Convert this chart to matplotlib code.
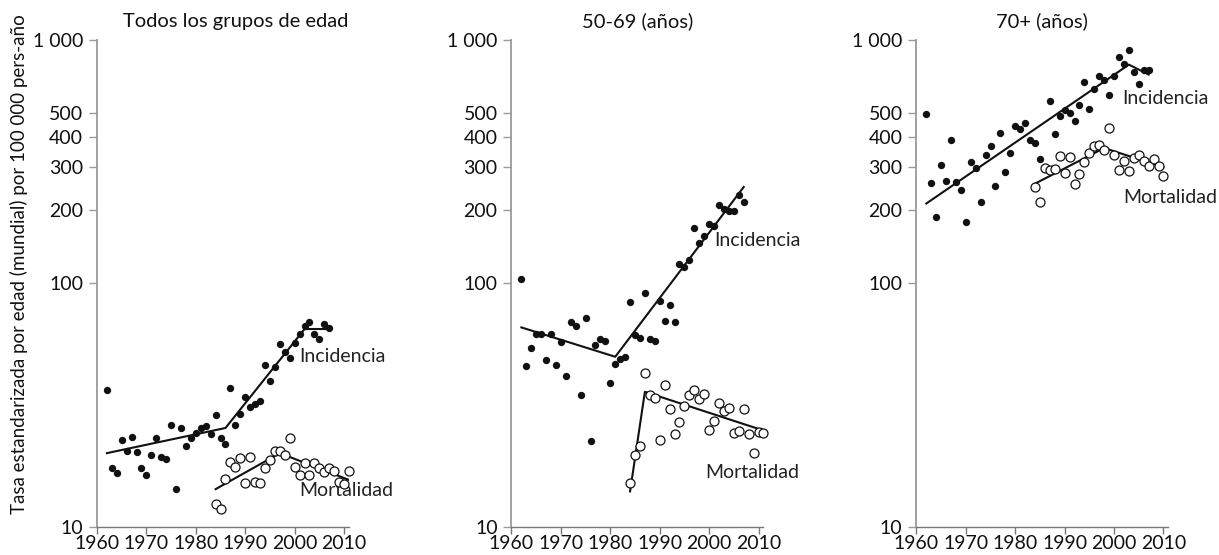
import numpy as np
import matplotlib
matplotlib.use("Agg")
import matplotlib.pyplot as plt
from matplotlib.ticker import FixedLocator, NullLocator

plt.rcParams['font.family'] = ['Lato', 'DejaVu Sans']

# --- datos: Todos los grupos de edad
inc_all_years = list(range(1962, 2008))
inc_all = [36.5, 17.5, 16.7, 22.7, 20.5, 23.4, 20.3, 17.4, 16.4, 19.7,
           23.2, 19.4, 19.0, 26.3, 14.3, 25.5, 21.5, 23.1, 24.3, 25.5,
           26.0, 24.0, 28.9, 23.2, 22.0, 37.3, 26.3, 29.0, 34.1, 31.2,
           31.9, 33.0, 46.1, 39.8, 45.4, 56.5, 52.4, 49.5, 56.8, 62.2,
           66.6, 69.4, 62.2, 59.3, 68.3, 65.6]
mor_all_years = list(range(1984, 2012))
mor_all = [12.4, 11.8, 15.7, 18.5, 17.7, 19.2, 15.1, 19.4, 15.3, 15.1,
           17.4, 18.8, 20.6, 20.6, 19.7, 23.1, 17.7, 16.3, 18.3, 16.4,
           18.3, 17.4, 16.8, 17.4, 17.0, 15.3, 15.0, 17.0]
inc_all_fit_x = [1962, 1986, 2002, 2007]
inc_all_fit_y = [20.1, 25.5, 65.0, 65.0]
mor_all_fit_x = [1984, 1997, 2011]
mor_all_fit_y = [14.3, 20.1, 15.6]

# --- datos: 50-69 años
inc_5069_years = list(range(1962, 2008))
inc_5069 = [104, 45.8, 54.4, 62.2, 61.8, 48.6, 61.8, 46.4, 57.3, 41.8,
            69.2, 66.6, 34.9, 72.3, 22.5, 56.1, 59.3, 58.1, 38.9, 46.5,
            48.9, 49.8, 84.2, 61.4, 59.7, 91.4, 59.2, 58.1, 85.0, 70.0,
            81.4, 69.2, 120, 117, 125, 169, 146, 156, 175, 173,
            211, 203, 199, 199, 230, 216]
mor_5069_years = list(range(1984, 2012))
mor_5069 = [15.2, 19.8, 21.6, 42.7, 34.9, 33.8, 22.7, 38.4, 30.4, 24.1,
            27.0, 31.5, 34.7, 36.4, 33.4, 35.3, 25.0, 27.3, 32.2, 29.8,
            30.7, 24.3, 24.7, 30.5, 24.0, 20.2, 24.5, 24.3]
inc_5069_fit_x = [1962, 1981, 2007]
inc_5069_fit_y = [66.0, 50.0, 249.0]
mor_5069_fit_x = [1984, 1987, 2011]
mor_5069_fit_y = [14.0, 35.9, 24.9]

# --- datos: 70+ años
inc_70_years = list(range(1962, 2008))
inc_70 = [495, 258, 188, 306, 263, 387, 260, 241, 179, 314,
          298, 217, 337, 367, 252, 415, 288, 342, 444, 432,
          458, 388, 376, 323, 295, 561, 411, 489, 518, 500,
          466, 539, 669, 523, 628, 712, 686, 596, 712, 853,
          799, 908, 741, 660, 753, 753]
mor_70_years = list(range(1984, 2011))
mor_70 = [249, 216, 298, 292, 295, 335, 284, 330, 256, 281,
          316, 342, 367, 370, 352, 436, 338, 293, 317, 291,
          327, 338, 317, 303, 325, 305, 276]
inc_70_fit_x = [1962, 2003, 2007]
inc_70_fit_y = [213, 792, 721]
mor_70_fit_x = [1984, 1998, 2010]
mor_70_fit_y = [257, 360, 300]

titles = ["Todos los grupos de edad", "50-69 (años)", "70+ (años)"]
label_pos = [((2001, 50), (2001, 14.1)),
             ((2001, 150), (1999.3, 16.7)),
             ((2001.7, 577), (2001.9, 225))]

panels = [
    (inc_all_years, inc_all, mor_all_years, mor_all,
     inc_all_fit_x, inc_all_fit_y, mor_all_fit_x, mor_all_fit_y),
    (inc_5069_years, inc_5069, mor_5069_years, mor_5069,
     inc_5069_fit_x, inc_5069_fit_y, mor_5069_fit_x, mor_5069_fit_y),
    (inc_70_years, inc_70, mor_70_years, mor_70,
     inc_70_fit_x, inc_70_fit_y, mor_70_fit_x, mor_70_fit_y),
]

yticks = [10, 100, 200, 300, 400, 500, 1000]
ylabels = ["10", "100", "200", "300", "400", "500", "1 000"]
xticks = [1960, 1970, 1980, 1990, 2000, 2010]

fig = plt.figure(figsize=(12.19, 5.55), dpi=100)
lefts = [0.0796, 0.4196, 0.7518]
fs = 14

for i, (iy, iv, my, mv, ifx, ify, mfx, mfy) in enumerate(panels):
    ax = fig.add_axes([lefts[i], 0.0505, 0.2067, 0.8775])
    ax.set_yscale('log')
    ax.set_ylim(10, 1000)
    ax.set_xlim(1960, 2011)

    ax.plot(ifx, ify, color='#111111', lw=1.5, zorder=2)
    ax.plot(mfx, mfy, color='#111111', lw=1.5, zorder=2)
    ax.scatter(iy, iv, s=28, color='#111111', zorder=3, clip_on=False,
               linewidths=0)
    ax.scatter(my, mv, s=42, facecolors='white', edgecolors='#111111',
               linewidths=0.9, zorder=4, clip_on=False)

    (ix, iyy), (mx, myy) = label_pos[i]
    ax.text(ix, iyy, "Incidencia", fontsize=fs, va='center', ha='left',
            color='#222222')
    ax.text(mx, myy, "Mortalidad", fontsize=fs, va='center', ha='left',
            color='#222222')

    ax.yaxis.set_major_locator(FixedLocator(yticks))
    ax.yaxis.set_minor_locator(NullLocator())
    ax.set_yticklabels(ylabels)
    ax.set_xticks(xticks)

    for s in ['top', 'right']:
        ax.spines[s].set_visible(False)
    ax.spines['left'].set_color('#9a9a9a')
    ax.spines['bottom'].set_color('#777777')
    ax.spines['left'].set_linewidth(1.3)
    ax.spines['bottom'].set_linewidth(1.0)
    ax.tick_params(axis='y', length=6, width=1.0, color='#9a9a9a',
                   labelsize=fs, pad=4, labelcolor='#111111')
    ax.tick_params(axis='x', length=5, width=1.0, color='#777777',
                   labelsize=fs, pad=1, labelcolor='#111111')

    ax.set_title(titles[i], fontsize=14.5, pad=9, color='#111111',
                 x=0.55 if i == 0 else 0.5)

fig.text(0.008, 0.525, "Tasa estandarizada por edad (mundial) por 100 000 pers-año",
         rotation=90, va='center', ha='left', fontsize=13.5, color='#111111')

fig.savefig("out.png", dpi=100)
